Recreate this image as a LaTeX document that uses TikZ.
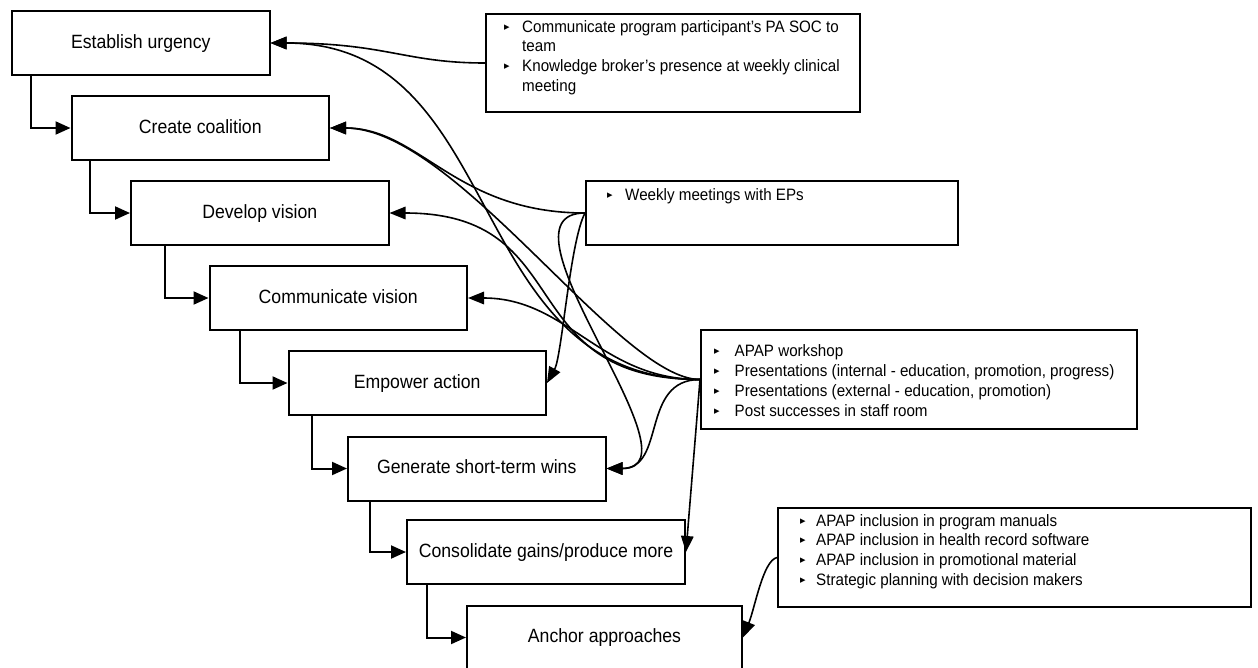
\documentclass[tikz,border=0pt]{standalone}
\usepackage{fontspec}
\setmainfont{Liberation Sans}
\newfontfamily\boxfont{Liberation Sans}[FakeStretch=0.92]
\newfontfamily\symfont{DejaVu Sans}
\usetikzlibrary{arrows.meta}
\newcommand\blt{\raisebox{2pt}{\symfont\fontsize{11}{11}\selectfont ▸}}
\newcommand\bitem[1]{\makebox[#1][l]{\blt}}
\begin{document}
\begin{tikzpicture}[x=1pt,y=-1pt,
 stepbox/.style={draw, line width=2pt, rectangle, inner sep=0pt, anchor=north west, minimum height=64pt, text height=14pt, text depth=4pt, font=\boxfont\fontsize{19.2}{23}\selectfont},
 notebox/.style={draw, line width=2pt, rectangle, inner sep=0pt, anchor=north west},
 notetext/.style={inner sep=0pt, anchor=base west, font=\boxfont\fontsize{16.5}{19.8}\selectfont},
 flow/.style={line width=2pt, -{Triangle[length=15pt,width=13pt]}},
 link/.style={line width=1.6pt, -{Triangle[length=16pt,width=12.5pt]}}]
\useasboundingbox (0,0) rectangle (1258,667);
\fill[white] (0,0) rectangle (1258,667);
\clip (0,0) rectangle (1258,667);
% left chain
\node[stepbox, minimum width=257.5pt] (e1) at (11,10) {Establish urgency};
\node[stepbox, minimum width=257.5pt] (e2) at (70.5,95) {Create coalition};
\node[stepbox, minimum width=257.5pt] (e3) at (130,180) {Develop vision};
\node[stepbox, minimum width=257.5pt] (e4) at (208.5,265) {Communicate vision};
\node[stepbox, minimum width=257.5pt] (e5) at (287.5,350) {Empower action};
\node[stepbox, minimum width=257.5pt] (e6) at (347,435.5) {Generate short-term wins};
\node[stepbox, minimum width=278pt] (e7) at (406,519) {Consolidate gains/produce more};
\node[stepbox, minimum width=275pt] (e8) at (466,604.5) {Anchor approaches};
% note boxes
\node[notebox, minimum width=374pt, minimum height=98pt] (r1) at (485,13) {};
\node[notebox, minimum width=372pt, minimum height=64pt] (r2) at (585,180) {};
\node[notebox, minimum width=436pt, minimum height=99pt] (r3) at (700,329) {};
\node[notebox, minimum width=473pt, minimum height=99pt] (r4) at (777,507) {};
\node[notetext] (t1) at (504,32) {\begin{tabular}[t]{@{}l@{}}\bitem{18pt}Communicate program participant’s PA SOC to\\\hspace*{18pt}team\\\bitem{18pt}Knowledge broker’s presence at weekly clinical\\\hspace*{18pt}meeting\end{tabular}};
\node[notetext] (t2) at (607,200) {\begin{tabular}[t]{@{}l@{}}\bitem{18pt}Weekly meetings with EPs\end{tabular}};
\node[notetext] (t3) at (714,356.7) {\begin{tabular}[t]{@{}l@{}}\bitem{20.5pt}APAP workshop\\\bitem{20.5pt}Presentations (internal - education, promotion, progress)\\\bitem{20.5pt}Presentations (external - education, promotion)\\\bitem{20.5pt}Post successes in staff room\end{tabular}};
\node[notetext] (t4) at (800,526) {\begin{tabular}[t]{@{}l@{}}\bitem{16pt}APAP inclusion in program manuals\\\bitem{16pt}APAP inclusion in health record software\\\bitem{16pt}APAP inclusion in promotional material\\\bitem{16pt}Strategic planning with decision makers\end{tabular}};
% chain connectors
\draw[flow] ([xshift=19.5pt]e1.south west) |- (e2.west);
\draw[flow] ([xshift=19.5pt]e2.south west) |- (e3.west);
\draw[flow] ([xshift=35pt]e3.south west) |- (e4.west);
\draw[flow] ([xshift=31.5pt]e4.south west) |- (e5.west);
\draw[flow] ([xshift=24pt]e5.south west) |- (e6.west);
\draw[flow] ([xshift=23pt]e6.south west) |- (e7.west);
\draw[flow] ([xshift=21pt]e7.south west) |- (e8.west);
% curved links
\draw[link] (r1.west) .. controls +(-80,0) and +(116,0) .. (e1.east);
\draw[link] (r2.west) .. controls +(-130,0) and +(90,0) .. (e2.east);
\draw[link] (r2.west) .. controls +(-15,28) and +(15,-27) .. (e5.east);
\draw[link] (r2.west) .. controls +(-100,0) and +(100,0) .. (e6.east);
\draw[link] (r3.west) .. controls +(-240,0) and +(240,0) .. (e1.east);
\draw[link] (r3.west) .. controls +(-81,0) and +(126,0) .. (e2.east);
\draw[link] (r3.west) .. controls +(-190,0) and +(190,0) .. (e3.east);
\draw[link] (r3.west) .. controls +(-100,0) and +(100,0) .. (e4.east);
\draw[link] (r3.west) .. controls +(-60,0) and +(60,0) .. (e6.east);
\draw[link] (r3.west) .. controls +(-4,50) and +(4,-50) .. (e7.east);
\draw[link] (r4.west) .. controls +(-14,3) and +(12,-30) .. (e8.east);
\end{tikzpicture}
\end{document}
